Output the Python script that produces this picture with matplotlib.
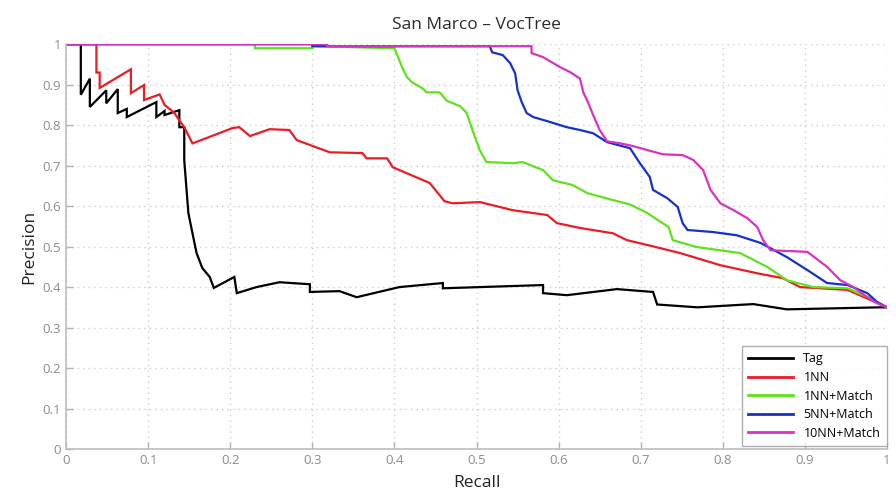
import matplotlib
matplotlib.use("Agg")
from matplotlib import pyplot as plt

# precision / recall samples per method
tag_r = [0.0, 0.018, 0.018, 0.029, 0.029, 0.049, 0.049, 0.063, 0.063, 0.074, 0.074,
         0.110, 0.110, 0.120, 0.120, 0.138, 0.138, 0.144, 0.144, 0.149, 0.154, 0.159,
         0.166, 0.175, 0.180, 0.205, 0.208, 0.232, 0.260, 0.297, 0.297, 0.333, 0.354,
         0.406, 0.459, 0.459, 0.504, 0.581, 0.581, 0.610, 0.671, 0.715, 0.720, 0.769,
         0.837, 0.878, 0.992, 1.0]
tag_p = [1.0, 1.0, 0.875, 0.915, 0.845, 0.886, 0.854, 0.889, 0.830, 0.840, 0.820,
         0.857, 0.820, 0.835, 0.825, 0.837, 0.795, 0.795, 0.713, 0.583, 0.533, 0.484,
         0.447, 0.425, 0.398, 0.425, 0.385, 0.400, 0.412, 0.407, 0.388, 0.390, 0.375,
         0.400, 0.410, 0.397, 0.400, 0.405, 0.385, 0.380, 0.395, 0.388, 0.357, 0.350,
         0.358, 0.345, 0.350, 0.350]

nn_r = [0.0, 0.037, 0.037, 0.041, 0.041, 0.079, 0.079, 0.095, 0.095, 0.114, 0.120,
        0.132, 0.138, 0.144, 0.154, 0.171, 0.203, 0.211, 0.224, 0.248, 0.272, 0.281,
        0.321, 0.361, 0.366, 0.391, 0.398, 0.443, 0.461, 0.471, 0.504, 0.544, 0.586,
        0.598, 0.626, 0.666, 0.683, 0.708, 0.748, 0.797, 0.842, 0.873, 0.894, 0.952,
        0.980, 1.0]
nn_p = [1.0, 1.0, 0.930, 0.930, 0.892, 0.938, 0.879, 0.899, 0.862, 0.876, 0.850,
        0.830, 0.812, 0.795, 0.755, 0.768, 0.793, 0.795, 0.773, 0.790, 0.788, 0.763,
        0.733, 0.731, 0.718, 0.718, 0.696, 0.657, 0.612, 0.607, 0.610, 0.590, 0.578,
        0.558, 0.546, 0.533, 0.516, 0.504, 0.484, 0.454, 0.434, 0.422, 0.400, 0.393,
        0.368, 0.350]

nn_match_r = [0.0, 0.230, 0.230, 0.300, 0.300, 0.400, 0.410, 0.415, 0.422, 0.435,
              0.439, 0.455, 0.464, 0.480, 0.488, 0.495, 0.504, 0.512, 0.544, 0.556,
              0.581, 0.593, 0.617, 0.635, 0.666, 0.687, 0.708, 0.734, 0.739, 0.768,
              0.821, 0.854, 0.878, 0.910, 0.952, 0.980, 1.0]
nn_match_p = [1.0, 1.0, 0.990, 0.990, 0.995, 0.990, 0.940, 0.919, 0.905, 0.890,
              0.881, 0.881, 0.860, 0.847, 0.830, 0.788, 0.738, 0.709, 0.706, 0.709,
              0.689, 0.664, 0.652, 0.632, 0.615, 0.604, 0.583, 0.548, 0.516, 0.499,
              0.484, 0.450, 0.417, 0.400, 0.397, 0.372, 0.350]

nn5_match_r = [0.0, 0.300, 0.300, 0.516, 0.519, 0.532, 0.541, 0.547, 0.550, 0.555,
               0.561, 0.569, 0.586, 0.610, 0.626, 0.642, 0.659, 0.687, 0.699, 0.711,
               0.715, 0.732, 0.745, 0.751, 0.757, 0.788, 0.817, 0.846, 0.858, 0.878,
               0.903, 0.927, 0.952, 0.976, 0.988, 1.0]
nn5_match_p = [1.0, 1.0, 0.995, 0.995, 0.980, 0.973, 0.953, 0.928, 0.886, 0.857,
               0.830, 0.820, 0.810, 0.795, 0.788, 0.780, 0.758, 0.743, 0.706, 0.672,
               0.640, 0.620, 0.598, 0.558, 0.541, 0.536, 0.528, 0.509, 0.496, 0.474,
               0.442, 0.410, 0.405, 0.385, 0.363, 0.350]

nn10_match_r = [0.0, 0.318, 0.318, 0.567, 0.567, 0.581, 0.602, 0.614, 0.626, 0.630,
                0.635, 0.642, 0.650, 0.659, 0.675, 0.687, 0.727, 0.751, 0.764, 0.776,
                0.785, 0.797, 0.813, 0.830, 0.842, 0.849, 0.858, 0.903, 0.927, 0.943,
                0.959, 0.976, 0.988, 1.0]
nn10_match_p = [1.0, 1.0, 0.995, 0.995, 0.978, 0.968, 0.943, 0.931, 0.915, 0.881,
                0.860, 0.825, 0.788, 0.760, 0.755, 0.750, 0.728, 0.726, 0.714, 0.689,
                0.640, 0.607, 0.590, 0.570, 0.548, 0.516, 0.491, 0.487, 0.450, 0.417,
                0.400, 0.375, 0.360, 0.350]

labels = ["Tag", "1NN", "1NN+Match", "5NN+Match", "10NN+Match"]
colors = ["#000000", "#ec1c24", "#5fe21c", "#1432c8", "#d832c0"]

plt.rcParams["font.family"] = ["Open Sans", "DejaVu Sans"]

fig = plt.figure(figsize=(8.96, 4.91), dpi=100)
ax = fig.add_axes([0.0737, 0.0855, 0.9163, 0.8245])

curves = [(tag_r, tag_p), (nn_r, nn_p), (nn_match_r, nn_match_p),
          (nn5_match_r, nn5_match_p), (nn10_match_r, nn10_match_p)]
for (r, p), lab, c in zip(curves, labels, colors):
    ax.plot(r, p, color=c, lw=1.6, label=lab, solid_joinstyle="miter")

ax.set_xlim(0, 1)
ax.set_ylim(0, 1)
ax.set_xticks([i / 10 for i in range(11)])
ax.set_yticks([i / 10 for i in range(11)])
ax.set_xticklabels(["0", "0.1", "0.2", "0.3", "0.4", "0.5", "0.6", "0.7", "0.8", "0.9", "1"])
ax.set_yticklabels(["0", "0.1", "0.2", "0.3", "0.4", "0.5", "0.6", "0.7", "0.8", "0.9", "1"])
ax.tick_params(direction="in", length=5, width=1, colors="#b4b4b4",
               labelcolor="#8c8c8c", labelsize=9.5)
ax.grid(True, linestyle=(0, (1, 3)), color="#cccccc", linewidth=1.0)

for s in ["top", "right"]:
    ax.spines[s].set_visible(False)
for s in ["left", "bottom"]:
    ax.spines[s].set_color("#bdbdbd")
    ax.spines[s].set_linewidth(1.2)

ax.set_title("San Marco \u2013 VocTree", fontsize=12.5, color="#2a2a2a", pad=11)
ax.set_xlabel("Recall", fontsize=12.5, color="#222222", labelpad=6)
ax.set_ylabel("Precision", fontsize=12.5, color="#222222", labelpad=4)

leg = ax.legend(loc="lower right", fontsize=9, frameon=True, fancybox=False,
                handlelength=3.6, borderpad=0.5, labelspacing=0.45,
                bbox_to_anchor=(1.007, -0.008))
leg.get_frame().set_edgecolor("#9a9a9a")
leg.get_frame().set_linewidth(1.0)
for line in leg.get_lines():
    line.set_linewidth(2.0)

plt.savefig("out.png", dpi=100)
